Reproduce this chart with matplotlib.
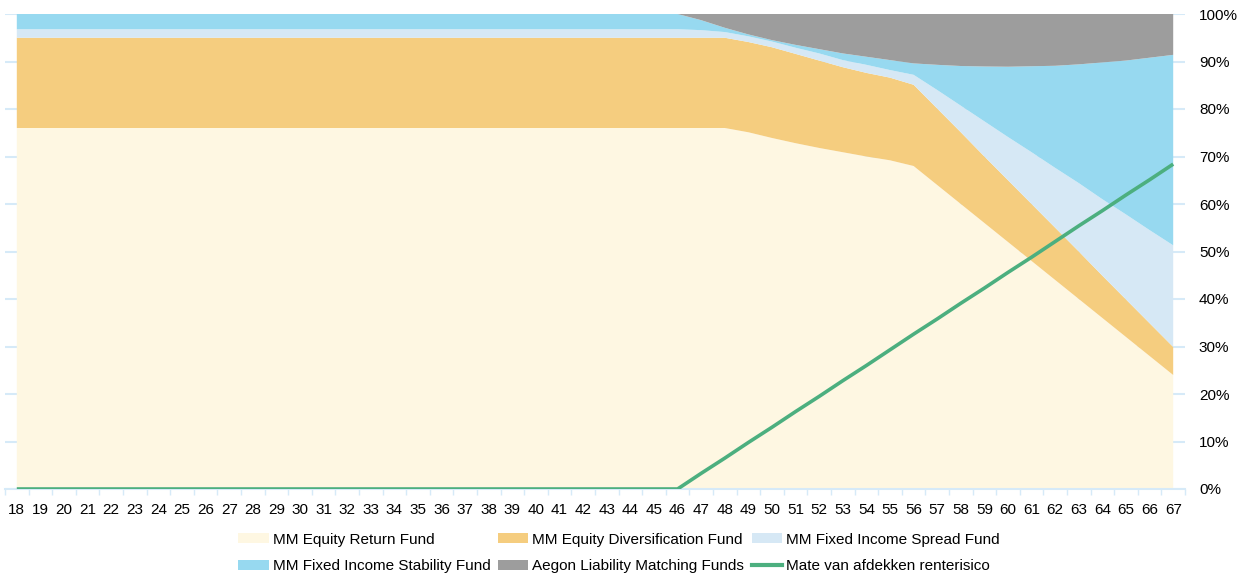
import matplotlib
matplotlib.use("Agg")
import matplotlib.pyplot as plt
from matplotlib.patches import Patch
from matplotlib.lines import Line2D
import numpy as np

ages = list(range(18, 68))

# shares per age (%)
equity_return = [76.0] * 31 + [75.1, 73.9, 72.8, 71.8, 70.9, 70.0, 69.2, 68.0,
                               64.0, 60.0, 56.0, 52.0, 48.0, 44.0, 40.0, 36.0, 32.0, 28.0, 24.0]
equity_divers = [19.0] * 31 + [19.0, 19.1, 18.8, 18.4, 17.9, 17.6, 17.4, 17.1,
                               16.1, 15.1, 14.0, 13.0, 12.0, 11.0, 10.0, 8.9, 7.9, 6.9, 5.9]
fi_spread = [1.8] * 29 + [1.6, 1.2, 1.2, 1.2, 1.3, 1.5, 1.5, 1.7, 1.6, 2.1,
                          3.9, 5.6, 7.4, 9.1, 10.9, 12.6, 14.4, 16.1, 17.9, 19.6, 21.4]
aegon_lm = [0.0] * 29 + [1.3, 2.9, 4.3, 5.5, 6.5, 7.4, 8.3, 9.0, 9.7, 10.4,
                         10.7, 10.95, 11.05, 11.1, 11.0, 10.9, 10.6, 10.2, 9.8, 9.2, 8.6]
fi_stability = [round(100 - a - b - c - d, 2) for a, b, c, d in
                zip(equity_return, equity_divers, fi_spread, aegon_lm)]
hedge = [0.0] * 29 + [3.3, 6.5, 9.8, 13.0, 16.3, 19.5, 22.8, 26.0, 29.3, 32.6,
                      35.8, 39.1, 42.3, 45.6, 48.8, 52.1, 55.4, 58.6, 61.9, 65.1, 68.4]

names = ["MM Equity Return Fund", "MM Equity Diversification Fund",
         "MM Fixed Income Spread Fund", "MM Fixed Income Stability Fund",
         "Aegon Liability Matching Funds", "Mate van afdekken renterisico"]
colors = ["#FEF7E2", "#F5CD7F", "#D6E8F5", "#97D9F0", "#9D9D9D"]
green = "#4CAF7F"
axis_col = "#D6EAF8"

plt.rcParams['font.family'] = ['Liberation Sans', 'DejaVu Sans']

fig = plt.figure(figsize=(12.46, 5.78), dpi=100)
ax = fig.add_axes([5 / 1246, 1 - 489 / 578, 1180 / 1246, 475 / 578])

ax.stackplot(ages, equity_return, equity_divers, fi_spread, fi_stability, aegon_lm,
             colors=colors, linewidth=0, zorder=2)
ax.plot(ages, hedge, color=green, lw=2.6, zorder=3, solid_capstyle='butt')

ax.set_xlim(17.5, 67.5)
ax.set_ylim(0, 100)

ax.set_yticks(np.arange(0, 101, 10))
ax.yaxis.tick_right()
ax.set_yticklabels([f"{v}%" for v in range(0, 101, 10)])
ax.yaxis.grid(True, color=axis_col, lw=1.5, zorder=0)
ax.set_axisbelow(True)
ax.tick_params(axis='y', length=0, pad=10, labelsize=11, colors='#000000')

ax.set_xticks(ages)
ax.set_xticklabels([str(a) for a in ages])
ax.set_xticks(np.arange(17.5, 68, 1), minor=True)
ax.tick_params(axis='x', which='major', length=0, pad=10, labelsize=11)
ax.tick_params(axis='x', which='minor', length=4, width=1, color=axis_col)

for s in ['left', 'right', 'top']:
    ax.spines[s].set_visible(False)
ax.spines['bottom'].set_color(axis_col)
ax.spines['bottom'].set_linewidth(1.5)

handles = [Patch(facecolor=colors[0], edgecolor='none'),
           Patch(facecolor=colors[3], edgecolor='none'),
           Patch(facecolor=colors[1], edgecolor='none'),
           Patch(facecolor=colors[4], edgecolor='none'),
           Patch(facecolor=colors[2], edgecolor='none'),
           Line2D([0], [0], color=green, lw=3)]
labels = [names[0], names[3], names[1], names[4], names[2], names[5]]
fig.legend(handles, labels, ncol=3, loc='center', bbox_to_anchor=(619 / 1246, 1 - 553 / 578),
           frameon=False, fontsize=11, handlelength=2.0, handleheight=0.6,
           handletextpad=0.25, columnspacing=0.5, labelspacing=0.85, borderpad=0)

fig.savefig("out.png", dpi=100)
